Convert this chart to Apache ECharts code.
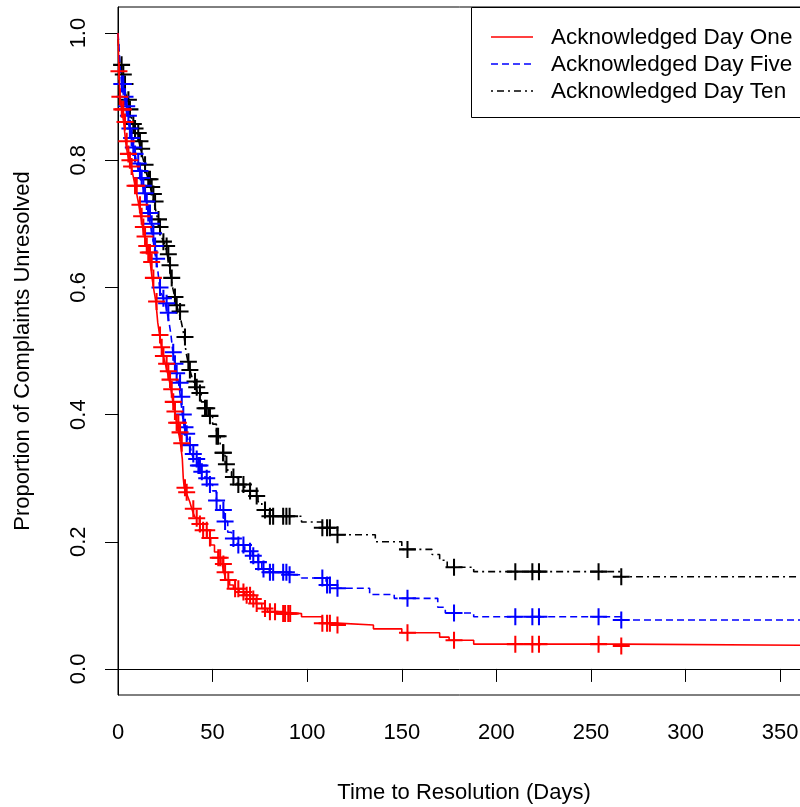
<!DOCTYPE html>
<html><head><meta charset="utf-8">
<script src="https://cdn.jsdelivr.net/npm/echarts@6/dist/echarts.min.js"></script>
<style>html,body{margin:0;padding:0;background:#fff}#c{width:800px;height:807px}</style>
</head><body><div id="c"></div>
<script>
// ---------- DATA ----------
const seriesNames = ['Acknowledged Day One', 'Acknowledged Day Five', 'Acknowledged Day Ten'];
const xTickLabels = [0, 50, 100, 150, 200, 250, 300, 350];
const yTickLabels = [0, 0.2, 0.4, 0.6, 0.8, 1.0];

// Day One: step times and survival
const dayOneTimes = [0,0.5,1,2,3,4,5,6,7,8,9,10,11,12,13,14,15,16,17,18,19,20,21,22,23,24,25,26,27,28,29,30,31,32,33,34,34.5,35,36,37,38,39,40,41,43,45,47,49,51,53,55,56,57,59,61,64,67,70,73,76,79,85,97,108,116,135,150,170,175,188,266];
const dayOneSurv  = [1,0.94,0.90,0.88,0.86,0.83,0.81,0.80,0.79,0.775,0.76,0.745,0.73,0.712,0.695,0.68,0.665,0.655,0.64,0.615,0.595,0.578,0.545,0.525,0.506,0.492,0.48,0.468,0.455,0.44,0.42,0.405,0.387,0.372,0.355,0.33,0.30,0.285,0.278,0.27,0.262,0.252,0.243,0.237,0.228,0.218,0.206,0.195,0.184,0.175,0.165,0.152,0.14,0.132,0.126,0.121,0.116,0.11,0.103,0.095,0.09,0.087,0.082,0.072,0.069,0.063,0.057,0.05,0.045,0.039,0.036];
const dayOneCensor = [0.5,1,2,2.8,3.7,4.6,5.5,6.3,7.2,9,9.9,11.6,12.5,13.4,14.3,15.2,16,16.9,17.8,18.7,20.4,22.2,23.1,24,25.7,26.6,27.5,28.4,29.2,30.1,31,31.9,32.8,33.7,35.4,36.3,39.8,41.6,43.3,45,46.9,48.6,53,54,55.7,56.6,58.3,61.9,63.6,66.3,68,69.8,71.5,73.3,77.7,80.3,83,87.3,88.3,90,91,108,110.5,112,116,153,177.6,210,219,222.5,254,266];

// Day Five
const dayFiveTimes = [0,0.5,1,2,3,4,5,6,7,8,9,10,11,12,13,14,15,16,17,18,19,20,21,22,23,24,25,26,27,28,29,30,31,32,33,34,35,36,37,38,39,40,42,44,46,48,50,52,54,56,58,60,63,67,71,74,76,80,90,97,110,116,133,146,169,173,188,266];
const dayFiveSurv  = [1,0.98,0.95,0.92,0.90,0.885,0.87,0.85,0.835,0.82,0.81,0.795,0.783,0.772,0.76,0.748,0.735,0.717,0.70,0.685,0.665,0.645,0.628,0.60,0.59,0.583,0.575,0.56,0.545,0.525,0.498,0.48,0.465,0.45,0.428,0.40,0.38,0.37,0.36,0.352,0.338,0.33,0.32,0.31,0.30,0.29,0.28,0.265,0.25,0.232,0.215,0.205,0.195,0.185,0.178,0.168,0.157,0.152,0.148,0.143,0.132,0.127,0.117,0.111,0.097,0.088,0.082,0.077];
const dayFiveCensor = [2,2.8,3.7,4.6,5.5,6.3,7.2,8.1,9,10.7,11.6,12.5,13.4,14.3,15.2,16,16.9,17.8,18.7,19.6,20.4,22.2,24,25.7,26.6,29.2,30.1,31,32.8,33.7,34.5,35.4,36.3,38,39.8,41.6,42.5,43.3,44.3,46.9,48.6,52.1,55.7,56.6,61,63.6,66.3,69.8,71.5,74.2,76.9,80.3,82,87.3,89,90.7,108,110.5,112,116,153,177.6,210,219,222.5,254,266];

// Day Ten
const dayTenTimes = [0,0.5,1,2,3,4,5,6,7,8,9,10,11,12,13,14,15,16,17,18,19,20,21,22,23,24,25,26,27,28,29,30,31,32,33,34,35,36,37,38,39,40,41,42,44,46,48,50,52,54,55.5,56.6,58,60,63,67,71,74,76,80,97,108,116,136,150,166,170,174,188,266];
const dayTenSurv  = [1,0.965,0.95,0.935,0.92,0.905,0.895,0.88,0.868,0.857,0.85,0.843,0.83,0.818,0.805,0.793,0.78,0.77,0.758,0.747,0.735,0.72,0.707,0.695,0.68,0.672,0.665,0.652,0.635,0.615,0.598,0.585,0.572,0.562,0.552,0.538,0.522,0.497,0.483,0.47,0.46,0.452,0.443,0.434,0.42,0.41,0.398,0.385,0.366,0.35,0.34,0.322,0.31,0.302,0.29,0.28,0.272,0.263,0.25,0.24,0.231,0.222,0.211,0.2,0.188,0.18,0.171,0.16,0.153,0.145];
const dayTenCensor = [1.9,2.8,3.7,5.5,6.3,8.1,9,10.7,11.6,12.5,14.3,16,16.9,17.8,18.7,19.6,21.4,22.2,24,25.7,26.6,27.5,28.4,30.1,31,32.8,35.4,37.2,38,40.7,41.6,43.3,46,46.9,48.6,52.1,52.9,55.5,55.7,57.3,61,63.6,66.3,69.8,73.3,77.7,80.3,82,87.3,89,90.7,108,110.5,112,116,153,177.6,210,219,222.5,254,266];

const colors = ['#FF0000', '#0000FF', '#000000'];
const dashes = [null, [7, 4], [2, 4, 7, 4]];

// ---------- BUILD ----------
const X_MAX = 365.75, X_END = 420;
function stepData(times, surv) {
  const d = times.map((t, i) => [t, surv[i]]);
  d.push([X_END, surv[surv.length - 1]]);
  return d;
}
function survAt(times, surv, t) {
  let v = surv[0];
  for (let i = 0; i < times.length; i++) { if (times[i] <= t) v = surv[i]; else break; }
  return v;
}
function censorData(times, surv, cens) { return cens.map(t => [t, survAt(times, surv, t)]); }

const groups = [
  [dayOneTimes, dayOneSurv, dayOneCensor],
  [dayFiveTimes, dayFiveSurv, dayFiveCensor],
  [dayTenTimes, dayTenSurv, dayTenCensor]
];
const plusPath = 'path://M8.8,0h2.4v20h-2.4zM0,8.8h20v2.4h-20z';
const FONT = '"Liberation Sans", Arial, sans-serif';

const series = [];
groups.forEach((g, i) => {
  series.push({
    name: seriesNames[i], type: 'line', step: 'end', symbol: 'none',
    data: stepData(g[0], g[1]),
    lineStyle: { color: colors[i], width: 1.6, type: dashes[i] || 'solid' },
    itemStyle: { color: colors[i] }, z: 5 - i
  });
  series.push({
    name: 'censor' + i, type: 'scatter', symbol: plusPath, symbolSize: 17,
    data: censorData(g[0], g[1], g[2]),
    itemStyle: { color: colors[i], opacity: 1 }, silent: true, z: 5 - i
  });
});

// legend drawn as graphic elements (line sample + real text)
const legendGraphics = [{
  type: 'rect', z: 9, shape: { x: 471.5, y: 7.5, width: 400, height: 110 },
  style: { fill: '#fff', stroke: '#000', lineWidth: 1 }
}];
seriesNames.forEach((nm, i) => {
  const y = 37 + i * 27;
  legendGraphics.push({
    type: 'line', z: 10, shape: { x1: 491, y1: y, x2: 533, y2: y },
    style: { stroke: colors[i], lineWidth: 1.6, lineDash: dashes[i] || null }
  });
  legendGraphics.push({
    type: 'text', z: 10, x: 551, y: y + 1,
    style: { text: nm, fill: '#000', font: '22.5px ' + FONT, textVerticalAlign: 'middle', verticalAlign: 'middle' }
  });
});

const chart = echarts.init(document.getElementById('c'), null, { renderer: 'canvas' });
chart.setOption({
  animation: false,
  backgroundColor: '#fff',
  textStyle: { fontFamily: FONT },
  grid: { left: 118, top: 7, right: -10, bottom: 112, show: true, borderColor: '#000', borderWidth: 1,
    backgroundColor: 'transparent', containLabel: false, outerBoundsMode: 'none' },
  xAxis: {
    type: 'value', min: 0, max: X_MAX,
    name: 'Time to Resolution (Days)', nameLocation: 'middle', nameGap: 87,
    nameTextStyle: { fontSize: 22, color: '#000', fontFamily: FONT },
    axisLine: { show: true, lineStyle: { color: '#000', width: 1 } },
    axisTick: { show: true, length: 13, lineStyle: { color: '#000' }, customValues: xTickLabels },
    axisLabel: { fontSize: 22, color: '#000', margin: 27, fontFamily: FONT, customValues: xTickLabels },
    splitLine: { show: false }
  },
  yAxis: {
    type: 'value', min: -0.041, max: 1.041,
    name: 'Proportion of Complaints Unresolved', nameLocation: 'middle', nameGap: 84, nameRotate: 90,
    nameTextStyle: { fontSize: 22, color: '#000', fontFamily: FONT },
    axisLine: { show: true, lineStyle: { color: '#000', width: 1 } },
    axisTick: { show: true, length: 13, lineStyle: { color: '#000' }, customValues: yTickLabels },
    axisLabel: { fontSize: 22, color: '#000', margin: 28, rotate: 90, fontFamily: FONT, customValues: yTickLabels,
      formatter: v => v.toFixed(1) },
    splitLine: { show: false }
  },
  graphic: legendGraphics,
  series: series
});
</script></body></html>
